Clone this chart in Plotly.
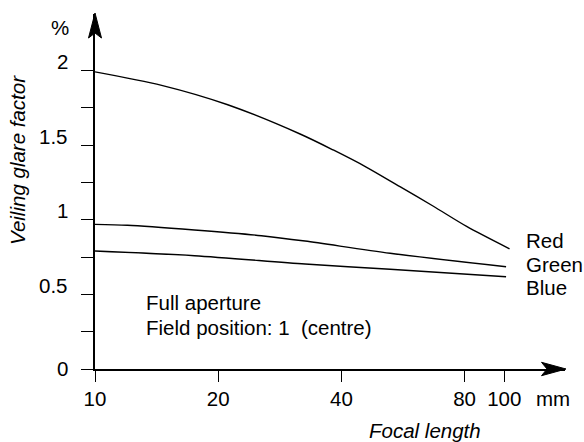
import plotly.graph_objects as go

# Focal length (mm) and veiling glare factor (%) for each colour channel
red_focal = [10, 14.55, 21.1, 31.7, 38.2, 46.1, 55.6, 67.1, 80.9, 103]
red_glare = [1.99, 1.90, 1.77, 1.574, 1.467, 1.351, 1.221, 1.090, 0.955, 0.805]

green_focal = [10, 12.0, 17.5, 25.5, 32.6, 52.6, 101]
green_glare = [0.969, 0.963, 0.931, 0.893, 0.857, 0.775, 0.685]

blue_focal = [10, 17.5, 32.6, 52.6, 101]
blue_glare = [0.790, 0.759, 0.703, 0.668, 0.618]

x_ticks = [10, 20, 40, 80, 100]
x_tick_text = ["10", "20", "40", "80", "100"]
y_ticks = [0, 0.25, 0.5, 0.75, 1.0, 1.25, 1.5, 1.75, 2.0]
y_labels = {0: "0", 0.5: "0.5", 1.0: "1", 1.5: "1.5", 2.0: "2"}

W, H = 584, 442
L, R, T, B = 95, 19, 14, 73
PW, PH = W - L - R, H - T - B
DECADE_PX = 409.3
UNIT_PX = 149.3
FONT = "Liberation Sans, Arial, sans-serif"
FS = 20.5


def px_x(p):
    return (p - L) / PW


def px_y(p):
    return (H - B - p) / PH


fig = go.Figure()
for fx, gy, nm in [(red_focal, red_glare, "Red"),
                   (green_focal, green_glare, "Green"),
                   (blue_focal, blue_glare, "Blue")]:
    fig.add_trace(go.Scatter(x=fx, y=gy, mode="lines", name=nm,
                             line=dict(color="black", width=1.4, shape="spline", smoothing=0.8),
                             showlegend=False, hoverinfo="skip"))

ann = []
# y tick labels
for v, t in y_labels.items():
    ann.append(dict(x=px_x(70), xref="paper", y=v, yref="y", text=t,
                    xanchor="right", yanchor="middle", showarrow=False,
                    yshift=9 if v > 0 else 1))
ann += [
    dict(x=px_x(60), y=px_y(28), text="%", xanchor="center", yanchor="middle"),
    dict(x=px_x(524), y=px_y(240), text="Red", xanchor="left", yanchor="middle"),
    dict(x=px_x(524), y=px_y(264), text="Green", xanchor="left", yanchor="middle"),
    dict(x=px_x(524), y=px_y(287), text="Blue", xanchor="left", yanchor="middle"),
    dict(x=px_x(144), y=px_y(302), text="Full aperture", xanchor="left", yanchor="middle"),
    dict(x=px_x(144), y=px_y(327), text="Field position: 1 \u00a0(centre)",
         xanchor="left", yanchor="middle"),
    dict(x=px_x(553), y=px_y(399), text="mm", xanchor="center", yanchor="middle"),
    dict(x=px_x(425), y=px_y(430), text="<i>Focal length</i>", xanchor="center", yanchor="middle"),
    dict(x=px_x(17), y=px_y(160), text="<i>Veiling glare factor</i>", textangle=-90,
         xanchor="center", yanchor="middle"),
]
for a in ann:
    a.setdefault("xref", "paper")
    a.setdefault("yref", "paper")
    a.setdefault("showarrow", False)
    a["font"] = dict(family=FONT, size=FS, color="black")

# arrowheads at the axis ends
def path(points):
    return "M " + " L ".join(f"{px_x(a)},{px_y(b)}" for a, b in points) + " Z"

shapes = [
    dict(type="path", xref="paper", yref="paper",
         path=path([(95, 13), (88.5, 38), (95, 33), (101.5, 38)]),
         fillcolor="black", line=dict(color="black", width=1)),
    dict(type="path", xref="paper", yref="paper",
         path=path([(566, 369), (541.5, 362.3), (547, 369), (541.5, 375.7)]),
         fillcolor="black", line=dict(color="black", width=1)),
]

fig.update_layout(
    width=W, height=H,
    margin=dict(l=L, r=R, t=T, b=B, pad=0),
    paper_bgcolor="white", plot_bgcolor="white",
    font=dict(family=FONT, size=FS, color="black"),
    annotations=ann, shapes=shapes,
    xaxis=dict(type="log", range=[1, 1 + PW / DECADE_PX],
               tickvals=x_ticks, ticktext=x_tick_text,
               ticks="outside", ticklen=11, tickwidth=1.3, tickcolor="black",
               showline=True, linecolor="black", linewidth=1.5,
               showgrid=False, zeroline=False,
               tickfont=dict(family=FONT, size=FS, color="black")),
    yaxis=dict(range=[0, PH / UNIT_PX], tickvals=y_ticks, showticklabels=False,
               ticks="outside", ticklen=12, tickwidth=1.3, tickcolor="black",
               showline=True, linecolor="black", linewidth=1.5,
               showgrid=False, zeroline=False),
)

fig.write_html("out.html")
